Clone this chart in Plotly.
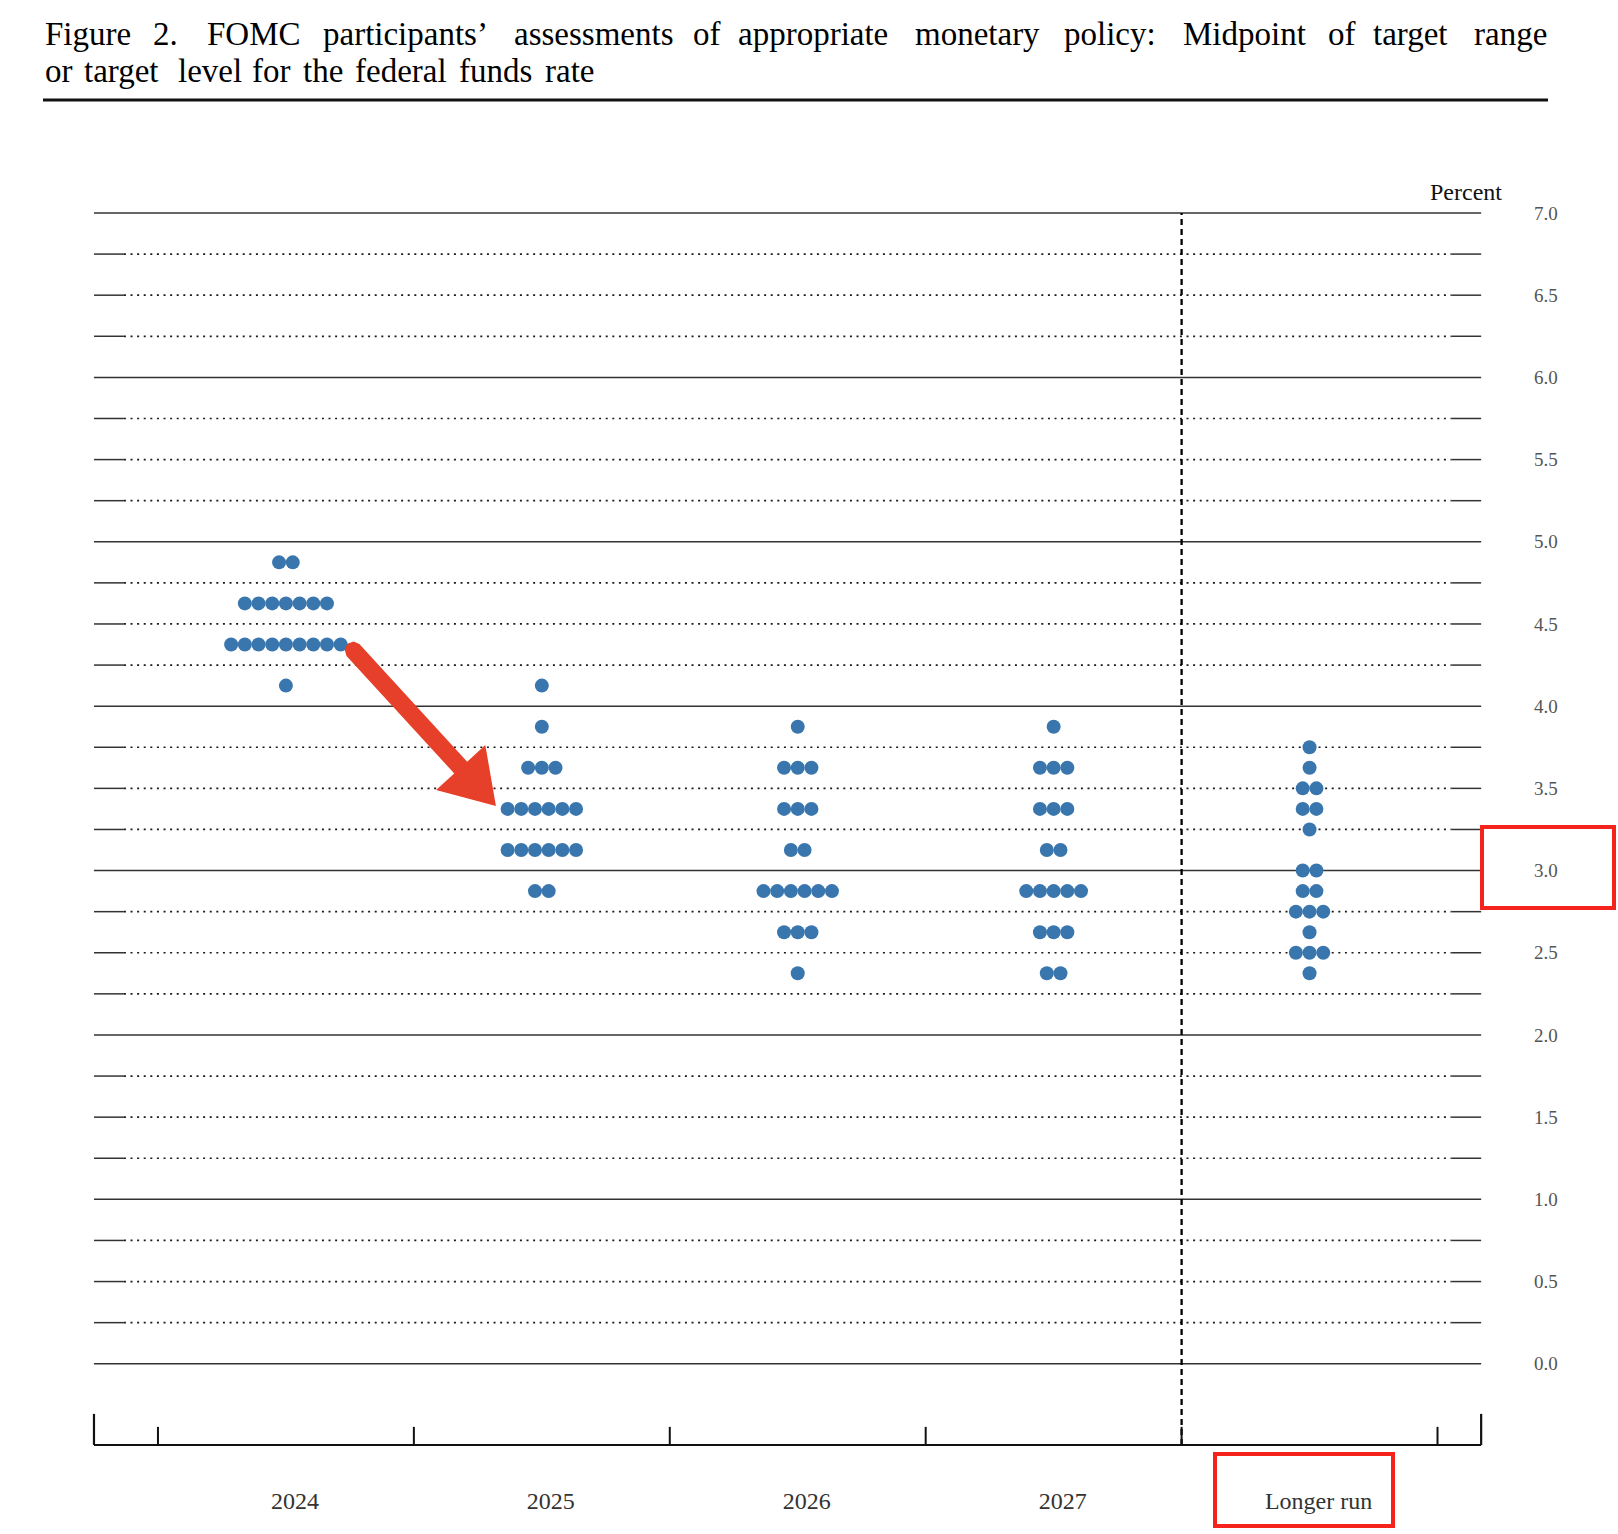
import plotly.graph_objects as go

# ---------------- data ----------------
categories = ["2024", "2025", "2026", "2027", "Longer run"]

rates_2024 = [4.875, 4.625, 4.375, 4.125]
counts_2024 = [2, 7, 9, 1]

rates_2025 = [4.125, 3.875, 3.625, 3.375, 3.125, 2.875]
counts_2025 = [1, 1, 3, 6, 6, 2]

rates_2026 = [3.875, 3.625, 3.375, 3.125, 2.875, 2.625, 2.375]
counts_2026 = [1, 3, 3, 2, 6, 3, 1]

rates_2027 = [3.875, 3.625, 3.375, 3.125, 2.875, 2.625, 2.375]
counts_2027 = [1, 3, 3, 2, 5, 3, 2]

rates_lr = [3.75, 3.625, 3.5, 3.375, 3.25, 3.0, 2.875, 2.75, 2.625, 2.5, 2.375]
counts_lr = [1, 1, 2, 2, 1, 2, 2, 3, 1, 3, 1]

y_tick_vals = [0.0, 0.5, 1.0, 1.5, 2.0, 2.5, 3.0, 3.5, 4.0, 4.5, 5.0, 5.5, 6.0, 6.5, 7.0]
y_tick_text = ["0.0", "0.5", "1.0", "1.5", "2.0", "2.5", "3.0", "3.5", "4.0", "4.5",
               "5.0", "5.5", "6.0", "6.5", "7.0"]

title_line1 = ["Figure", "2.", "FOMC", "participants\u2019", "assessments", "of",
               "appropriate", "monetary", "policy:", "Midpoint", "of", "target", "range"]
title_line2 = ["or", "target", "level", "for", "the", "federal", "funds", "rate"]

# ---------------- layout constants ----------------
W, H = 1618, 1534
ML, MR, MT, MB = 84, 127, 200, 80
PW, PH = W - ML - MR, H - MT - MB
X_RANGE = [-0.789, 4.709]
Y_RANGE = [-0.549, 7.079]
X_LEFT, X_RIGHT = -0.75, 4.6705
Y_AXIS = -0.494
EDGE = 0.117
DOT_STEP = 0.0535
DOT_COLOR = "#3a76ae"
SERIF = "Liberation Serif"


def px(xp):
    return (xp - ML) / PW


def py(yp):
    return (H - MB - yp) / PH


rates = [rates_2024, rates_2025, rates_2026, rates_2027, rates_lr]
counts = [counts_2024, counts_2025, counts_2026, counts_2027, counts_lr]

xs, ys = [], []
for i, (rr, cc) in enumerate(zip(rates, counts)):
    for rate, n in zip(rr, cc):
        for k in range(n):
            xs.append(i + (k - (n - 1) / 2) * DOT_STEP)
            ys.append(rate)

fig = go.Figure()
fig.add_trace(go.Scatter(
    x=xs, y=ys, mode="markers", cliponaxis=False, hoverinfo="skip",
    marker=dict(size=14, color=DOT_COLOR, line=dict(width=0)),
    showlegend=False,
))

shapes = []
# horizontal grid lines every 0.25
n_grid = int(7.0 / 0.25) + 1
for j in range(n_grid):
    v = j * 0.25
    if abs(v - round(v)) < 1e-9:
        shapes.append(dict(type="line", xref="x", yref="y", x0=X_LEFT, x1=X_RIGHT,
                           y0=v, y1=v, line=dict(color="#333", width=1.5), layer="below"))
    else:
        shapes.append(dict(type="line", xref="x", yref="y", x0=X_LEFT + EDGE, x1=X_RIGHT - EDGE,
                           y0=v, y1=v, line=dict(color="#1a1a1a", width=1.7, dash="2px,4.6px"),
                           layer="below"))
        for a, b in [(X_LEFT, X_LEFT + EDGE), (X_RIGHT - EDGE, X_RIGHT)]:
            shapes.append(dict(type="line", xref="x", yref="y", x0=a, x1=b, y0=v, y1=v,
                               line=dict(color="#333", width=1.5), layer="below"))

# vertical dashed separator
shapes.append(dict(type="line", xref="x", yref="y", x0=3.5, x1=3.5, y0=Y_AXIS, y1=7.0,
                   line=dict(color="#000", width=2.3, dash="6px,4px"), layer="below"))
# bottom axis
shapes.append(dict(type="line", xref="x", yref="y", x0=X_LEFT, x1=X_RIGHT, y0=Y_AXIS, y1=Y_AXIS,
                   line=dict(color="#111", width=2)))
for xe in [X_LEFT, X_RIGHT]:
    shapes.append(dict(type="line", xref="x", yref="y", x0=xe, x1=xe, y0=Y_AXIS, y1=Y_AXIS + 0.189,
                       line=dict(color="#111", width=2.2)))
for xt in [-0.5, 0.5, 1.5, 2.5, 3.5, 4.5]:
    shapes.append(dict(type="line", xref="x", yref="y", x0=xt, x1=xt, y0=Y_AXIS, y1=Y_AXIS + 0.11,
                       line=dict(color="#111", width=2)))

# title rule
shapes.append(dict(type="line", xref="paper", yref="paper", x0=px(43), x1=px(1548),
                   y0=py(100), y1=py(100), line=dict(color="#111", width=3)))

# red arrow polygon (pixel geometry -> paper)
arrow_px = [(347.1, 655.4), (455.3, 773.5), (437.6, 789.7), (495.0, 805.0), (484.8, 746.5),
            (467.1, 762.7), (358.9, 644.6), (353.6, 642.2), (348.0, 644.3), (345.5, 649.9)]
path = "M" + " L".join(f"{px(a):.5f},{py(b):.5f}" for a, b in arrow_px) + " Z"
shapes.append(dict(type="path", xref="paper", yref="paper", path=path,
                   fillcolor="#e7402a", line=dict(color="#e7402a", width=1.5)))

# red boxes
RED = "#f4231b"
shapes.append(dict(type="rect", xref="paper", yref="paper", x0=px(1482), x1=px(1614),
                   y0=py(908), y1=py(827), line=dict(color=RED, width=4)))
shapes.append(dict(type="rect", xref="paper", yref="paper", x0=px(1215), x1=px(1393),
                   y0=py(1526), y1=py(1454), line=dict(color=RED, width=4)))

annotations = []
# title words (justified first line)
line1_x = [43, 150.7, 205.1, 320.5, 511.5, 690.9, 736.1, 913.3, 1061.9, 1180.9, 1326, 1371.2, 1472.4]
line2_x = [43, 82.2, 176.1, 249.5, 300.8, 353.3, 457, 543.1]
for wtxt, xp in zip(title_line1, line1_x):
    annotations.append(dict(text=wtxt, xref="paper", yref="paper", x=px(xp), y=py(34),
                            xanchor="left", yanchor="middle", showarrow=False,
                            font=dict(family=SERIF, size=33, color="#000")))
for wtxt, xp in zip(title_line2, line2_x):
    annotations.append(dict(text=wtxt, xref="paper", yref="paper", x=px(xp), y=py(71),
                            xanchor="left", yanchor="middle", showarrow=False,
                            font=dict(family=SERIF, size=33, color="#000")))

annotations.append(dict(text="Percent", xref="paper", yref="paper", x=px(1504), y=py(192),
                        xanchor="right", yanchor="middle", showarrow=False,
                        font=dict(family=SERIF, size=24, color="#111")))

fig.update_layout(
    width=W, height=H,
    margin=dict(l=ML, r=MR, t=MT, b=MB, pad=0),
    paper_bgcolor="white", plot_bgcolor="white",
    shapes=shapes, annotations=annotations,
    showlegend=False, hovermode=False,
    xaxis=dict(range=X_RANGE, showgrid=False, zeroline=False, showline=False,
               tickmode="array", tickvals=list(range(len(categories))), ticktext=categories,
               ticks="", ticklabelshift=9, ticklabelstandoff=30,
               tickfont=dict(family=SERIF, size=24, color="#333"), fixedrange=True),
    yaxis=dict(range=Y_RANGE, side="right", showgrid=False, zeroline=False, showline=False,
               tickmode="array", tickvals=y_tick_vals, ticktext=y_tick_text,
               ticks="", ticklabelstandoff=42,
               tickfont=dict(family=SERIF, size=19, color="#555"), fixedrange=True),
)

fig.write_html("out.html", config={"displayModeBar": False},
               post_script="document.body.style.margin='0';document.body.style.overflow='hidden';")
